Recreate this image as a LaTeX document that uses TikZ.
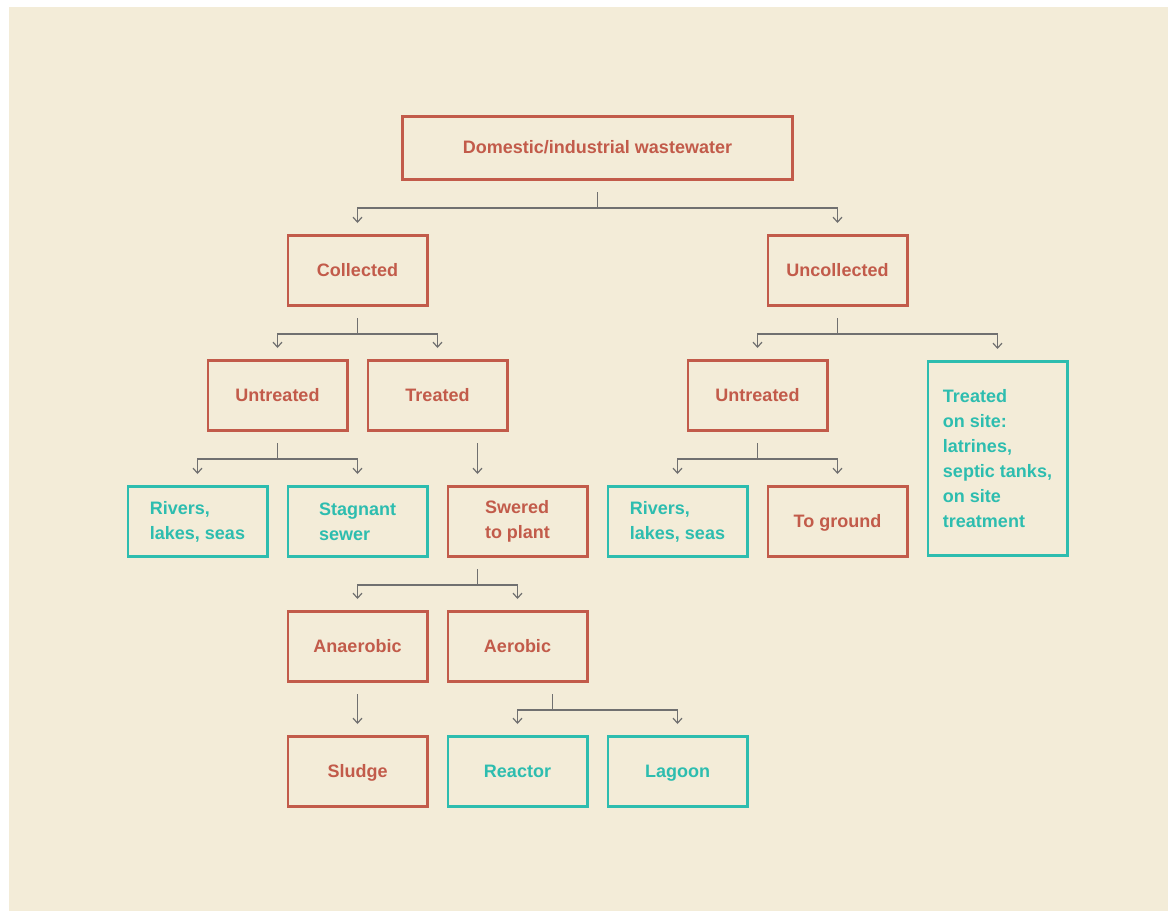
\documentclass[tikz,border=0pt]{standalone}
\usepackage{fontspec}
\setmainfont{Liberation Sans}
\usetikzlibrary{arrows.meta,calc}
\definecolor{paper}{HTML}{F3ECD8}
\definecolor{brick}{HTML}{C25B4A}
\definecolor{lagoonteal}{HTML}{2DBDAF}
\definecolor{wiregrey}{HTML}{707070}
\begin{document}
\begin{tikzpicture}[x=1pt,y=-1pt,
  box/.style={draw, line width=2.6pt, minimum width=139.4pt, minimum height=70.4pt,
    inner sep=0pt, align=left, font=\fontsize{18}{25}\selectfont\bfseries},
  oneline/.style={text height=14pt, text depth=3pt},
  redbox/.style={box, draw=brick, text=brick},
  tealbox/.style={box, draw=lagoonteal, text=lagoonteal},
  wire/.style={draw=wiregrey, line width=1.2pt},
  feed/.style={wire, -{Straight Barb[length=5pt,width=9pt]}}]

% page and paper
\fill[white] (0,0) rectangle (1168,911);
\fill[paper] (9,7) rectangle (1168,911);
\useasboundingbox (0,0) rectangle (1168,911);

% level 1
\node[redbox, oneline, minimum width=390.4pt, minimum height=63.4pt] (dom) at (597.5,148) {Domestic/industrial wastewater};

% level 2
\node[redbox, oneline] (col) at (357.5,270.5) {Collected};
\node[redbox, oneline] (unc) at (837.5,270.5) {Uncollected};

% level 3
\node[redbox, oneline] (untl) at (277.5,395.5) {Untreated};
\node[redbox, oneline] (trl)  at (437.5,395.5) {Treated};
\node[redbox, oneline] (unr)  at (757.5,395.5) {Untreated};
\node[tealbox, minimum height=194.4pt] (tos) at (997.5,458.5)
  {Treated\\on site:\\latrines,\\septic tanks,\\on site\\treatment};

% level 4
\node[tealbox] (riv1) at (197.5,521.5) {Rivers,\\lakes, seas};
\node[tealbox] (stag) at (357.5,521.5) {Stagnant\\sewer};
\node[redbox]  (swe)  at (517.5,521.5) {Swered\\to plant};
\node[tealbox] (riv2) at (677.5,521.5) {Rivers,\\lakes, seas};
\node[redbox, oneline]  (grd)  at (837.5,521.5) {To ground};

% level 5
\node[redbox, oneline] (ana) at (357.5,646.5) {Anaerobic};
\node[redbox, oneline] (aer) at (517.5,646.5) {Aerobic};

% level 6
\node[redbox, oneline]  (slu) at (357.5,771.5) {Sludge};
\node[tealbox, oneline] (rea) at (517.5,771.5) {Reactor};
\node[tealbox, oneline] (lag) at (677.5,771.5) {Lagoon};

% forks
\draw[wire] ([yshift=-11pt]dom.south) -- ([yshift=-27pt]dom.south) coordinate (j0);
\draw[feed] (j0) -| ([yshift=11pt]col.north);
\draw[feed] (j0) -| ([yshift=11pt]unc.north);

\draw[wire] ([yshift=-11pt]col.south) -- ([yshift=-27pt]col.south) coordinate (j1);
\draw[feed] (j1) -| ([yshift=11pt]untl.north);
\draw[feed] (j1) -| ([yshift=11pt]trl.north);

\draw[wire] ([yshift=-11pt]unc.south) -- ([yshift=-27pt]unc.south) coordinate (j2);
\draw[feed] (j2) -| ([yshift=11pt]unr.north);
\draw[feed] (j2) -| ([yshift=11pt]tos.north);

\draw[wire] ([yshift=-11pt]untl.south) -- ([yshift=-27pt]untl.south) coordinate (j3);
\draw[feed] (j3) -| ([yshift=11pt]riv1.north);
\draw[feed] (j3) -| ([yshift=11pt]stag.north);

\draw[feed] ([xshift=40pt,yshift=-11pt]trl.south) -- ([xshift=-40pt,yshift=11pt]swe.north);

\draw[wire] ([yshift=-11pt]unr.south) -- ([yshift=-27pt]unr.south) coordinate (j4);
\draw[feed] (j4) -| ([yshift=11pt]riv2.north);
\draw[feed] (j4) -| ([yshift=11pt]grd.north);

\draw[wire] ([xshift=-40pt,yshift=-11pt]swe.south) -- ([xshift=-40pt,yshift=-27pt]swe.south) coordinate (j5);
\draw[feed] (j5) -| ([yshift=11pt]ana.north);
\draw[feed] (j5) -| ([yshift=11pt]aer.north);

\draw[feed] ([yshift=-11pt]ana.south) -- ([yshift=11pt]slu.north);

\draw[wire] ([xshift=35pt,yshift=-11pt]aer.south) -- ([xshift=35pt,yshift=-27pt]aer.south) coordinate (j6);
\draw[feed] (j6) -| ([yshift=11pt]rea.north);
\draw[feed] (j6) -| ([yshift=11pt]lag.north);
\end{tikzpicture}
\end{document}
